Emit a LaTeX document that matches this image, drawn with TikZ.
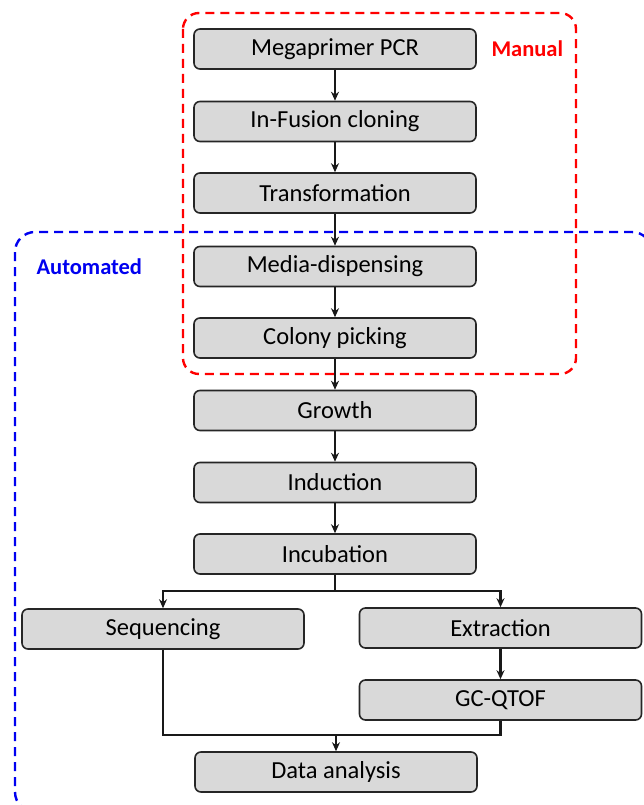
\documentclass[tikz,border=0pt]{standalone}
\usepackage{fontspec}
\setmainfont{Carlito}
\usetikzlibrary{arrows.meta}
\definecolor{boxgray}{HTML}{D9D9D9}
\definecolor{manred}{HTML}{FF0000}
\definecolor{autblue}{HTML}{0000F0}
\tikzset{
  stepbox/.style={draw=black!85, fill=boxgray, line width=1.6pt, rounded corners=6pt,
    minimum width=282pt, minimum height=40pt, inner sep=0pt,
    font=\fontsize{24.5}{28}\selectfont},
  arr/.style={-{Stealth[length=9pt,width=8pt]}, line width=2.2pt, black!90},
  lin/.style={line width=2.2pt, black!90},
  region/.style={dashed, dash pattern=on 9pt off 6pt, line width=2.4pt, rounded corners=20pt},
  tag/.style={font=\bfseries\fontsize{22.5}{26}\selectfont, anchor=west}
}
\begin{document}
\begin{tikzpicture}[x=1pt,y=-1pt]
\fill[white] (0,0) rectangle (643,805);
\useasboundingbox (0,0) rectangle (643,805);
% regions
\draw[region, autblue] (15,232) rectangle (652,812);
\draw[region, manred, rounded corners=16pt] (183,13) rectangle (576,374);
\node[tag, text=manred] (manual) at (488,49) {Manual};
\node[tag, text=autblue] (automated) at (33,267) {Automated};
% boxes
\node[stepbox] (mega) at (335,49) {Megaprimer PCR};
\node[stepbox] (infusion) at (335,121.5) {In-Fusion cloning};
\node[stepbox] (transf) at (335,193) {Transformation};
\node[stepbox] (media) at (335,266.5) {Media-dispensing};
\node[stepbox] (colony) at (335,338) {Colony picking};
\node[stepbox] (growth) at (335,410.5) {Growth};
\node[stepbox] (induct) at (335,482.5) {Induction};
\node[stepbox] (incub) at (335,554) {Incubation};
\node[stepbox] (seq) at (163,629) {Sequencing};
\node[stepbox] (extr) at (500.5,628) {Extraction};
\node[stepbox] (gc) at (500.5,700) {GC-QTOF};
\node[stepbox] (data) at (336,772) {Data analysis};
% connectors
\draw[arr] (mega.south) -- (infusion.north);
\draw[arr] (infusion.south) -- (transf.north);
\draw[arr] (transf.south) -- (media.north);
\draw[arr] (media.south) -- (colony.north);
\draw[arr] (colony.south) -- (growth.north);
\draw[arr] (growth.south) -- (induct.north);
\draw[arr] (induct.south) -- (incub.north);
\coordinate (br) at (335,591);
\coordinate (mg) at (336,735);
\draw[lin] (incub.south) -- (br);
\draw[arr] (br) -| (seq.north);
\draw[arr] (br) -| (extr.north);
\draw[arr] (extr.south) -- (gc.north);
\draw[lin] (seq.south) |- (mg);
\draw[lin] (gc.south) |- (mg);
\draw[arr] (mg) -- (data.north);
\end{tikzpicture}
\end{document}
